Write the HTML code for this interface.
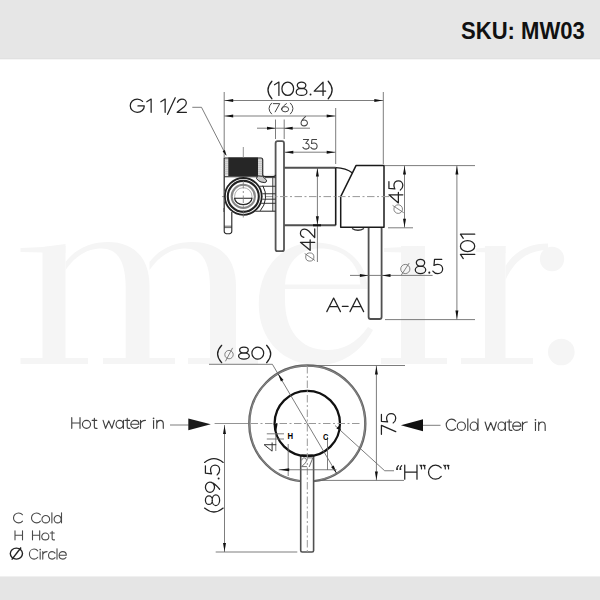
<!DOCTYPE html>
<html><head><meta charset="utf-8"><style>
html,body{margin:0;padding:0;background:#fff;}
svg{display:block;font-family:"Liberation Sans",sans-serif;}
</style></head><body>
<svg width="600" height="600" viewBox="0 0 600 600">
<rect x="0" y="0" width="600" height="600" fill="#fff"/>
<g fill="#f5f5f5">
<path d="M42.5,247 L65.5,244 L65.5,358 L42.5,358 Z"/>
<path d="M20.5,248 L65.5,246 L65.5,253 L20.5,252 Z"/>
<rect x="20.5" y="358" width="67.5" height="6"/>
<path d="M65.5,262 C76,248 92,242 108,242 C132,242 149.5,256 149.5,286 L149.5,358 L125.7,358 L125.7,288 C125.7,262 118,249 102,248.5 C88,248.5 76,255 65.5,270 Z"/>
<rect x="103" y="358" width="72" height="6"/>
<path d="M149.5,262 C160,248 176,242 192,242 C218,242 236,256 236,286 L236,358 L210,358 L210,288 C210,262 202,249 186,248.5 C172,248.5 160,255 149.5,270 Z"/>
<rect x="188" y="358" width="70" height="6"/>
<path d="M367.5,289 C367.5,262 345,242.5 315,242.5 C282,242.5 258.75,268 258.75,304 C258.75,340 283,365 318,365 C342,365 361,352 373,330 L368,327 C357,343 343,350 327,350 C300,350 285,330 285,300 L285,289 Z"/>
</g>
<path d="M285,284.5 C286,262 300,248.5 320,248.5 C343,248.5 358,262 360.5,284.5 Z" fill="#fff"/>
<g fill="#f5f5f5">
<rect x="401" y="246" width="24" height="114"/>
<path d="M384,248 L425,246 L425,253 L384,252 Z"/>
<rect x="381" y="358" width="66" height="6"/>
<rect x="485" y="246" width="20.5" height="114"/>
<path d="M476,248.5 L505.5,246 L505.5,253 L476,252 Z"/>
<rect x="461" y="358" width="72" height="6"/>
<path d="M505.5,266 C514,252 528,243.5 548,243.5 L548,250 C530,250 515,259 505.5,280 Z"/>
<circle cx="552" cy="259" r="12.2"/>
<circle cx="561.3" cy="352" r="13.3"/>
</g>
<rect x="0" y="0" width="600" height="58" fill="#e6e6e6"/>
<rect x="0" y="58" width="600" height="1" fill="#e1e1e1"/>
<rect x="0" y="59" width="600" height="1" fill="#f6f6f6"/>
<rect x="0" y="576" width="600" height="1" fill="#f0f0f0"/>
<rect x="0" y="577" width="600" height="23" fill="#e5e5e5"/>
<line x1="224.20" y1="92.00" x2="224.20" y2="157.00" stroke="#666" stroke-width="0.85" />
<line x1="383.30" y1="92.00" x2="383.30" y2="164.00" stroke="#666" stroke-width="0.85" />
<line x1="335.70" y1="108.00" x2="335.70" y2="164.00" stroke="#666" stroke-width="0.85" />
<line x1="275.50" y1="119.50" x2="275.50" y2="139.00" stroke="#666" stroke-width="0.85" />
<line x1="284.20" y1="119.50" x2="284.20" y2="139.00" stroke="#666" stroke-width="0.85" />
<line x1="224.20" y1="100.50" x2="383.30" y2="100.50" stroke="#666" stroke-width="0.85" />
<polygon points="224.70,100.50 233.20,99.00 233.20,102.00" fill="#111"/>
<polygon points="382.80,100.50 374.30,102.00 374.30,99.00" fill="#111"/>
<line x1="224.20" y1="116.00" x2="335.70" y2="116.00" stroke="#666" stroke-width="0.85" />
<polygon points="224.70,116.00 233.20,114.50 233.20,117.50" fill="#111"/>
<polygon points="335.20,116.00 326.70,117.50 326.70,114.50" fill="#111"/>
<line x1="257.00" y1="128.20" x2="310.00" y2="128.20" stroke="#666" stroke-width="0.85" />
<polygon points="275.50,128.20 267.00,129.70 267.00,126.70" fill="#111"/>
<polygon points="284.20,128.20 292.70,126.70 292.70,129.70" fill="#111"/>
<line x1="284.30" y1="152.20" x2="335.70" y2="152.20" stroke="#666" stroke-width="0.85" />
<polygon points="284.80,152.20 293.30,150.70 293.30,153.70" fill="#111"/>
<polygon points="335.20,152.20 326.70,153.70 326.70,150.70" fill="#111"/>
<line x1="192.30" y1="107.30" x2="201.50" y2="107.30" stroke="#666" stroke-width="0.85" />
<line x1="201.50" y1="107.30" x2="226.00" y2="155.00" stroke="#666" stroke-width="0.85" />
<polygon points="226.50,156.00 222.60,151.26 224.92,150.07" fill="#111"/>
<rect x="275.6" y="141.2" width="8.4" height="110" rx="2" fill="#fff" stroke="#555" stroke-width="1.8"/>
<path d="M284.2,167.7 H335.7 M335.7,225.3 H284.2" fill="none" stroke="#505050" stroke-width="1.9"/>
<path d="M335.7,167.6 V225.3" fill="none" stroke="#1a1a1a" stroke-width="1.6"/>
<rect x="368.6" y="226.5" width="13" height="92.5" rx="2" fill="#fff" stroke="#505050" stroke-width="1.8"/>
<path d="M335.7,167.6 Q346,168 352.5,173" fill="none" stroke="#1a1a1a" stroke-width="1.3"/>
<path d="M356,165.6 H384 V227.3 H340.7 V196.7 Z" fill="#fff" stroke="#1a1a1a" stroke-width="1.5" stroke-linejoin="round"/>
<path d="M352,228.5 Q358,232 364,228.5" fill="none" stroke="#333" stroke-width="1.3"/>
<line x1="222.00" y1="196.60" x2="392.00" y2="196.60" stroke="#999" stroke-width="1.0" stroke-dasharray="7.5 2.5 2 2.5"/>
<line x1="317.40" y1="167.60" x2="317.40" y2="262.00" stroke="#666" stroke-width="0.85" />
<polygon points="317.40,168.10 318.90,176.60 315.90,176.60" fill="#111"/>
<polygon points="317.40,224.80 315.90,216.30 318.90,216.30" fill="#111"/>
<rect x="313" y="224.3" width="8" height="2" fill="#111"/>
<g transform="translate(309.8,257) rotate(-90)"><ellipse cx="0" cy="0" rx="4.1" ry="4.1" fill="none" stroke="#666" stroke-width="0.8"/><line x1="-3.4849999999999994" y1="5.125" x2="3.4849999999999994" y2="-5.125" stroke="#666" stroke-width="0.8"/></g>
<line x1="385.00" y1="165.60" x2="475.00" y2="165.60" stroke="#666" stroke-width="0.85" />
<line x1="388.00" y1="227.80" x2="413.00" y2="227.80" stroke="#666" stroke-width="0.85" />
<line x1="404.50" y1="165.60" x2="404.50" y2="227.50" stroke="#666" stroke-width="0.85" />
<polygon points="404.50,166.10 406.00,174.60 403.00,174.60" fill="#111"/>
<polygon points="404.50,227.30 403.00,218.80 406.00,218.80" fill="#111"/>
<g transform="translate(398.2,209.1) rotate(-90)"><ellipse cx="0" cy="0" rx="4.3" ry="4.3" fill="none" stroke="#666" stroke-width="0.8"/><line x1="-3.655" y1="5.59" x2="3.655" y2="-5.59" stroke="#666" stroke-width="0.8"/></g>
<line x1="385.00" y1="319.60" x2="475.00" y2="319.60" stroke="#666" stroke-width="0.85" />
<line x1="456.90" y1="165.60" x2="456.90" y2="319.60" stroke="#666" stroke-width="0.85" />
<polygon points="456.90,166.10 458.40,174.60 455.40,174.60" fill="#111"/>
<polygon points="456.90,319.10 455.40,310.60 458.40,310.60" fill="#111"/>
<line x1="350.00" y1="275.40" x2="432.60" y2="275.40" stroke="#666" stroke-width="0.85" />
<polygon points="368.40,275.40 359.90,276.90 359.90,273.90" fill="#111"/>
<polygon points="382.00,275.40 390.50,273.90 390.50,276.90" fill="#111"/>
<g transform="translate(405.3,269) rotate(0)"><ellipse cx="0" cy="0" rx="4.6" ry="4.6" fill="none" stroke="#666" stroke-width="0.8"/><line x1="-3.9099999999999997" y1="5.9799999999999995" x2="3.9099999999999997" y2="-5.9799999999999995" stroke="#666" stroke-width="0.8"/></g>
<g stroke="#222" fill="none">
<path d="M224.2,176.7 V158 H261 Q262.7,158 262.7,160 V174.5 Q262.7,176.7 265,176.7 H273 Q275.5,176.7 275.5,174.5" fill="#e6e6e6" stroke-width="1.2"/>
<line x1="224.6" y1="159.8" x2="228.3" y2="159.8" stroke="#aaa" stroke-width="0.7"/>
<line x1="257.9" y1="159.8" x2="262.3" y2="159.8" stroke="#aaa" stroke-width="0.7"/>
<line x1="224.6" y1="161.8" x2="228.3" y2="161.8" stroke="#aaa" stroke-width="0.7"/>
<line x1="257.9" y1="161.8" x2="262.3" y2="161.8" stroke="#aaa" stroke-width="0.7"/>
<line x1="224.6" y1="163.8" x2="228.3" y2="163.8" stroke="#aaa" stroke-width="0.7"/>
<line x1="257.9" y1="163.8" x2="262.3" y2="163.8" stroke="#aaa" stroke-width="0.7"/>
<line x1="224.6" y1="165.8" x2="228.3" y2="165.8" stroke="#aaa" stroke-width="0.7"/>
<line x1="257.9" y1="165.8" x2="262.3" y2="165.8" stroke="#aaa" stroke-width="0.7"/>
<line x1="224.6" y1="167.8" x2="228.3" y2="167.8" stroke="#aaa" stroke-width="0.7"/>
<line x1="257.9" y1="167.8" x2="262.3" y2="167.8" stroke="#aaa" stroke-width="0.7"/>
<line x1="224.6" y1="169.8" x2="228.3" y2="169.8" stroke="#aaa" stroke-width="0.7"/>
<line x1="257.9" y1="169.8" x2="262.3" y2="169.8" stroke="#aaa" stroke-width="0.7"/>
<line x1="224.6" y1="171.8" x2="228.3" y2="171.8" stroke="#aaa" stroke-width="0.7"/>
<line x1="257.9" y1="171.8" x2="262.3" y2="171.8" stroke="#aaa" stroke-width="0.7"/>
<line x1="224.6" y1="173.8" x2="228.3" y2="173.8" stroke="#aaa" stroke-width="0.7"/>
<line x1="257.9" y1="173.8" x2="262.3" y2="173.8" stroke="#aaa" stroke-width="0.7"/>
<rect x="228.3" y="157.5" width="29.7" height="18.6" fill="#262626" stroke="none"/>
<path d="M224.2,176.7 H262.7" stroke-width="1.1"/>
<path d="M224.2,176.7 V212" stroke-width="1.2"/>
<line x1="265" y1="177.6" x2="275.5" y2="177.6" stroke-width="0.8"/>
<line x1="260" y1="186.25" x2="275.5" y2="186.25" stroke-width="0.9"/>
<line x1="260" y1="193.75" x2="275.5" y2="193.75" stroke-width="0.9"/>
<line x1="260" y1="199.2" x2="275.5" y2="199.2" stroke-width="0.9"/>
<line x1="260" y1="203.3" x2="275.5" y2="203.3" stroke-width="0.9"/>
<line x1="252" y1="211.2" x2="275.5" y2="211.2" stroke-width="1"/>
<line x1="272.8" y1="177.6" x2="272.8" y2="211.2" stroke-width="0.9"/>
<path d="M257.5,175.8 L262.5,176.2 L266.6,180.2 Q266.8,182.3 264.8,182.6 L261,182 Q258,181 256.5,178.5 Z" fill="#ccc" stroke-width="1"/>
<path d="M262.8,185.6 A22,22 0 0 1 260.2,210.8" stroke-width="1"/>
<circle cx="243.3" cy="196.4" r="19.3" fill="#fff" stroke="none"/>
<circle cx="243.3" cy="196.4" r="18.4" stroke-width="1.8"/>
<circle cx="243.3" cy="196.4" r="15.5" stroke-width="2.1"/>
<circle cx="243.3" cy="196.4" r="11.6" stroke="#888" stroke-width="2.1"/>
<circle cx="243.3" cy="196.4" r="8.7" stroke="#999" stroke-width="0.8"/>
<path d="M234.6,198.3 H252 A8.7,6.2 0 0 1 234.6,198.3 Z" stroke-width="1.1"/>
<path d="M224.2,208 V231.2 Q224.2,233.8 228,233.8 Q231.8,233.8 231.8,231.2 V212" fill="#fff" stroke-width="1.1"/>
<line x1="224.2" y1="226.2" x2="231.8" y2="226.2" stroke-width="0.7"/>
<line x1="224.2" y1="227.6" x2="231.8" y2="227.6" stroke-width="0.7"/>
</g>
<line x1="243.30" y1="147.00" x2="243.30" y2="158.00" stroke="#777" stroke-width="0.8" />
<line x1="243.30" y1="181.00" x2="243.30" y2="219.00" stroke="#777" stroke-width="0.8" stroke-dasharray="7.5 2.5 2 2.5"/>
<circle cx="307.3" cy="423.5" r="58" fill="none" stroke="#626262" stroke-width="2.4"/>
<circle cx="307.3" cy="423.5" r="58" fill="none" stroke="#aaa" stroke-width="0.5"/>
<rect x="300.7" y="455" width="12.9" height="97" rx="1.5" fill="#fff" stroke="#505050" stroke-width="1.6"/>
<circle cx="307.3" cy="423.5" r="32.7" fill="none" stroke="#111" stroke-width="2.2"/>
<line x1="214.60" y1="423.50" x2="248.00" y2="423.50" stroke="#888" stroke-width="0.9" />
<line x1="250.50" y1="423.50" x2="362.00" y2="423.50" stroke="#999" stroke-width="1.0" stroke-dasharray="7.5 2.5 2 2.5"/>
<line x1="307.30" y1="366.00" x2="307.30" y2="552.00" stroke="#999" stroke-width="1.0" stroke-dasharray="7.5 2.5 2 2.5"/>
<g transform="translate(229,354.6) rotate(0)"><ellipse cx="0" cy="0" rx="4.2" ry="4.2" fill="none" stroke="#666" stroke-width="0.8"/><line x1="-3.57" y1="6.720000000000001" x2="3.57" y2="-6.720000000000001" stroke="#666" stroke-width="0.8"/></g>
<line x1="209.00" y1="364.30" x2="272.40" y2="364.30" stroke="#666" stroke-width="0.85" />
<line x1="272.40" y1="364.30" x2="336.69" y2="473.50" stroke="#666" stroke-width="0.85" />
<polygon points="277.91,373.50 283.51,380.07 280.92,381.59" fill="#111"/>
<polygon points="336.69,473.50 331.09,466.93 333.68,465.41" fill="#111"/>
<line x1="170.00" y1="425.00" x2="188.75" y2="425.00" stroke="#666" stroke-width="0.85" />
<polygon points="188.3,418.6 210.8,424.3 188.3,430.2" fill="#1a1a1a"/>
<line x1="423.00" y1="425.30" x2="440.50" y2="425.30" stroke="#666" stroke-width="0.85" />
<polygon points="423,419.3 400.9,425.3 423,431.3" fill="#111"/>
<line x1="307.30" y1="365.50" x2="405.00" y2="365.50" stroke="#666" stroke-width="0.85" />
<line x1="314.00" y1="480.40" x2="404.00" y2="480.40" stroke="#666" stroke-width="0.85" />
<line x1="376.40" y1="365.50" x2="376.40" y2="480.40" stroke="#666" stroke-width="0.85" />
<polygon points="376.40,366.00 377.90,374.50 374.90,374.50" fill="#111"/>
<polygon points="376.40,479.90 374.90,471.40 377.90,471.40" fill="#111"/>
<line x1="335.00" y1="425.50" x2="384.70" y2="470.75" stroke="#666" stroke-width="0.85" />
<line x1="384.70" y1="470.75" x2="394.00" y2="470.75" stroke="#666" stroke-width="0.85" />
<polygon points="341.20,430.50 336.35,428.40 338.63,425.88" fill="#111"/>
<polygon points="276.20,431.50 273.47,423.69 277.66,423.36" fill="#111"/>
<line x1="215.70" y1="552.00" x2="297.30" y2="552.00" stroke="#666" stroke-width="0.85" />
<line x1="224.50" y1="425.00" x2="224.50" y2="552.00" stroke="#666" stroke-width="0.85" />
<polygon points="224.50,425.50 226.00,434.00 223.00,434.00" fill="#111"/>
<polygon points="224.50,551.50 223.00,543.00 226.00,543.00" fill="#111"/>
<line x1="278.75" y1="469.75" x2="336.50" y2="469.75" stroke="#666" stroke-width="0.85" />
<line x1="288.20" y1="444.00" x2="288.20" y2="476.00" stroke="#666" stroke-width="0.85" />
<line x1="327.50" y1="437.00" x2="327.50" y2="470.00" stroke="#666" stroke-width="0.85" />
<polygon points="279.20,469.75 289.20,468.35 289.20,471.15" fill="#111"/>
<line x1="266.80" y1="433.80" x2="284.00" y2="433.80" stroke="#666" stroke-width="0.85" />
<line x1="266.80" y1="439.00" x2="284.00" y2="439.00" stroke="#666" stroke-width="0.85" />
<line x1="275.80" y1="433.00" x2="275.80" y2="451.00" stroke="#666" stroke-width="0.85" />
<g transform="translate(16.4,553.6) rotate(0)"><ellipse cx="0" cy="0" rx="6.1" ry="5.5" fill="none" stroke="#222" stroke-width="1.4"/><line x1="-4.675" y1="6.050000000000001" x2="4.675" y2="-6.050000000000001" stroke="#222" stroke-width="1.4"/></g>
<text x="461.0" y="38.75" font-size="23" fill="#111" font-weight="bold" text-anchor="start" textLength="123.78" lengthAdjust="spacingAndGlyphs" >SKU: MW03</text>
<g transform="translate(265.762,82.069) scale(14.28646,13.36250)" fill="none" stroke="#222" stroke-width="1.25" stroke-linecap="round" stroke-linejoin="round" vector-effect="non-scaling-stroke">
<path transform="translate(0.0000,0)" d="M0.43,-0.06 Q-0.12,0.6 0.43,1.25" vector-effect="non-scaling-stroke"/>
<path transform="translate(0.6100,0)" d="M0,0.2 L0.31,0 V1" vector-effect="non-scaling-stroke"/>
<path transform="translate(1.1300,0)" d="M0.000,0.500 A0.410,0.500 0 1 0 0.820,0.500 A0.410,0.500 0 1 0 0.000,0.500 Z" vector-effect="non-scaling-stroke"/>
<path transform="translate(2.1300,0)" d="M0.075,0.245 A0.300,0.245 0 1 0 0.675,0.245 A0.300,0.245 0 1 0 0.075,0.245 Z M0.000,0.735 A0.375,0.265 0 1 0 0.750,0.735 A0.375,0.265 0 1 0 0.000,0.735 Z" vector-effect="non-scaling-stroke"/>
<path transform="translate(3.3900,0)" d="M0.62,1 V0 L0,0.68 H0.8" vector-effect="non-scaling-stroke"/>
<path transform="translate(4.3700,0)" d="M0,-0.06 Q0.55,0.6 0,1.25" vector-effect="non-scaling-stroke"/>
</g>
<circle cx="310.55" cy="94.50" r="0.94" fill="#222"/>
<g transform="translate(267.450,103.635) scale(9.54225,8.23000)" fill="none" stroke="#444" stroke-width="1.0" stroke-linecap="round" stroke-linejoin="round" vector-effect="non-scaling-stroke">
<path transform="translate(0.0000,0)" d="M0.43,-0.06 Q-0.12,0.6 0.43,1.25" vector-effect="non-scaling-stroke"/>
<path transform="translate(0.6100,0)" d="M0,0 H0.68 L0.2,1" vector-effect="non-scaling-stroke"/>
<path transform="translate(1.4700,0)" d="M0.52,0 C0.3,0.18 0.06,0.42 0.02,0.62 M0.010,0.680 A0.370,0.320 0 1 0 0.750,0.680 A0.370,0.320 0 1 0 0.010,0.680 Z" vector-effect="non-scaling-stroke"/>
<path transform="translate(2.4100,0)" d="M0,-0.06 Q0.55,0.6 0,1.25" vector-effect="non-scaling-stroke"/>
</g>
<g transform="translate(300.973,116.642) scale(8.62500,9.21650)" fill="none" stroke="#444" stroke-width="1.05" stroke-linecap="round" stroke-linejoin="round" vector-effect="non-scaling-stroke">
<path transform="translate(0.0000,0)" d="M0.52,0 C0.3,0.18 0.06,0.42 0.02,0.62 M0.010,0.680 A0.370,0.320 0 1 0 0.750,0.680 A0.370,0.320 0 1 0 0.010,0.680 Z" vector-effect="non-scaling-stroke"/>
</g>
<g transform="translate(302.873,139.442) scale(9.02215,9.66650)" fill="none" stroke="#444" stroke-width="1.05" stroke-linecap="round" stroke-linejoin="round" vector-effect="non-scaling-stroke">
<path transform="translate(0.0000,0)" d="M0.06,0 H0.64 L0.32,0.4 C0.54,0.39 0.7,0.53 0.7,0.71 C0.7,0.88 0.55,1 0.36,1 C0.21,1 0.08,0.93 0,0.82" vector-effect="non-scaling-stroke"/>
<path transform="translate(0.8800,0)" d="M0.64,0 H0.12 L0.08,0.43 C0.17,0.38 0.26,0.36 0.36,0.36 C0.56,0.36 0.7,0.5 0.7,0.68 C0.7,0.87 0.55,1 0.36,1 C0.21,1 0.08,0.93 0,0.82" vector-effect="non-scaling-stroke"/>
</g>
<g transform="translate(130.262,99.069) scale(14.00873,13.26250)" fill="none" stroke="#222" stroke-width="1.25" stroke-linecap="round" stroke-linejoin="round" vector-effect="non-scaling-stroke">
<path transform="translate(0.0000,0)" d="M0.88,0.18 C0.78,0.06 0.65,0 0.5,0 C0.22,0 0,0.22 0,0.5 C0,0.78 0.22,1 0.5,1 C0.78,1 1.0,0.8 1.0,0.52 H0.55" vector-effect="non-scaling-stroke"/>
<path transform="translate(1.1800,0)" d="M0,0.2 L0.31,0 V1" vector-effect="non-scaling-stroke"/>
<path transform="translate(2.1800,0)" d="M0,0.2 L0.31,0 V1" vector-effect="non-scaling-stroke"/>
<path transform="translate(2.6600,0)" d="M0.55,-0.1 L0,1.15" vector-effect="non-scaling-stroke"/>
<path transform="translate(3.3500,0)" d="M0.02,0.24 C0.08,0.08 0.2,0 0.34,0 C0.52,0 0.65,0.13 0.65,0.29 C0.65,0.4 0.6,0.48 0.5,0.58 L0.0,1 H0.66" vector-effect="non-scaling-stroke"/>
</g>
<g transform="translate(300.419,250.338) rotate(-90) scale(13.03354,14.31250)" fill="none" stroke="#222" stroke-width="1.25" stroke-linecap="round" stroke-linejoin="round" vector-effect="non-scaling-stroke">
<path transform="translate(0.0000,0)" d="M0.62,1 V0 L0,0.68 H0.8" vector-effect="non-scaling-stroke"/>
<path transform="translate(0.9800,0)" d="M0.02,0.24 C0.08,0.08 0.2,0 0.34,0 C0.52,0 0.65,0.13 0.65,0.29 C0.65,0.4 0.6,0.48 0.5,0.58 L0.0,1 H0.66" vector-effect="non-scaling-stroke"/>
</g>
<g transform="translate(388.919,202.938) rotate(-90) scale(13.16964,13.91250)" fill="none" stroke="#222" stroke-width="1.25" stroke-linecap="round" stroke-linejoin="round" vector-effect="non-scaling-stroke">
<path transform="translate(0.0000,0)" d="M0.62,1 V0 L0,0.68 H0.8" vector-effect="non-scaling-stroke"/>
<path transform="translate(0.9800,0)" d="M0.64,0 H0.12 L0.08,0.43 C0.17,0.38 0.26,0.36 0.36,0.36 C0.56,0.36 0.7,0.5 0.7,0.68 C0.7,0.87 0.55,1 0.36,1 C0.21,1 0.08,0.93 0,0.82" vector-effect="non-scaling-stroke"/>
</g>
<g transform="translate(460.419,258.538) rotate(-90) scale(13.31967,14.31250)" fill="none" stroke="#222" stroke-width="1.25" stroke-linecap="round" stroke-linejoin="round" vector-effect="non-scaling-stroke">
<path transform="translate(0.0000,0)" d="M0,0.2 L0.31,0 V1" vector-effect="non-scaling-stroke"/>
<path transform="translate(0.5200,0)" d="M0.000,0.500 A0.410,0.500 0 1 0 0.820,0.500 A0.410,0.500 0 1 0 0.000,0.500 Z" vector-effect="non-scaling-stroke"/>
<path transform="translate(1.5200,0)" d="M0,0.2 L0.31,0 V1" vector-effect="non-scaling-stroke"/>
</g>
<g transform="translate(415.262,259.269) scale(13.96684,14.36250)" fill="none" stroke="#222" stroke-width="1.25" stroke-linecap="round" stroke-linejoin="round" vector-effect="non-scaling-stroke">
<path transform="translate(0.0000,0)" d="M0.075,0.245 A0.300,0.245 0 1 0 0.675,0.245 A0.300,0.245 0 1 0 0.075,0.245 Z M0.000,0.735 A0.375,0.265 0 1 0 0.750,0.735 A0.375,0.265 0 1 0 0.000,0.735 Z" vector-effect="non-scaling-stroke"/>
<path transform="translate(1.2600,0)" d="M0.64,0 H0.12 L0.08,0.43 C0.17,0.38 0.26,0.36 0.36,0.36 C0.56,0.36 0.7,0.5 0.7,0.68 C0.7,0.87 0.55,1 0.36,1 C0.21,1 0.08,0.93 0,0.82" vector-effect="non-scaling-stroke"/>
</g>
<circle cx="429.30" cy="272.63" r="1.01" fill="#222"/>
<g transform="translate(326.812,298.069) scale(13.63889,13.56250)" fill="none" stroke="#222" stroke-width="1.25" stroke-linecap="round" stroke-linejoin="round" vector-effect="non-scaling-stroke">
<path transform="translate(0.0000,0)" d="M0,1 L0.5,0 L1,1 M0.19,0.64 H0.81" vector-effect="non-scaling-stroke"/>
<path transform="translate(1.1400,0)" d="M0,0.62 H0.42" vector-effect="non-scaling-stroke"/>
<path transform="translate(1.7000,0)" d="M0,1 L0.5,0 L1,1 M0.19,0.64 H0.81" vector-effect="non-scaling-stroke"/>
</g>
<g transform="translate(238.562,347.169) scale(14.35714,11.91250)" fill="none" stroke="#222" stroke-width="1.25" stroke-linecap="round" stroke-linejoin="round" vector-effect="non-scaling-stroke">
<path transform="translate(0.0000,0)" d="M0.075,0.245 A0.300,0.245 0 1 0 0.675,0.245 A0.300,0.245 0 1 0 0.075,0.245 Z M0.000,0.735 A0.375,0.265 0 1 0 0.750,0.735 A0.375,0.265 0 1 0 0.000,0.735 Z" vector-effect="non-scaling-stroke"/>
<path transform="translate(0.9300,0)" d="M0.000,0.500 A0.410,0.500 0 1 0 0.820,0.500 A0.410,0.500 0 1 0 0.000,0.500 Z" vector-effect="non-scaling-stroke"/>
</g>
<g transform="translate(71.767,417.655) scale(10.86231,10.68950)" fill="none" stroke="#404040" stroke-width="1.15" stroke-linecap="round" stroke-linejoin="round" vector-effect="non-scaling-stroke">
<path transform="translate(0.0000,0)" d="M0,0 V1 M0.76,0 V1 M0,0.5 H0.76" vector-effect="non-scaling-stroke"/>
<path transform="translate(0.9800,0)" d="M0.000,0.627 A0.375,0.373 0 1 0 0.750,0.627 A0.375,0.373 0 1 0 0.000,0.627 Z" vector-effect="non-scaling-stroke"/>
<path transform="translate(1.8800,0)" d="M0.2,0.06 V0.88 Q0.2,1 0.34,1 H0.45 M0,0.255 H0.42" vector-effect="non-scaling-stroke"/>
<path transform="translate(2.8850,0)" d="M0,0.255 L0.23,1 L0.52,0.3 L0.81,1 L1.04,0.255" vector-effect="non-scaling-stroke"/>
<path transform="translate(4.0750,0)" d="M0.000,0.627 A0.330,0.373 0 1 0 0.660,0.627 A0.330,0.373 0 1 0 0.000,0.627 Z M0.68,0.255 V1" vector-effect="non-scaling-stroke"/>
<path transform="translate(4.9050,0)" d="M0.2,0.06 V0.88 Q0.2,1 0.34,1 H0.45 M0,0.255 H0.42" vector-effect="non-scaling-stroke"/>
<path transform="translate(5.4300,0)" d="M0.02,0.62 H0.75 C0.75,0.4 0.59,0.255 0.375,0.255 C0.17,0.255 0,0.42 0,0.627 C0,0.84 0.17,1 0.385,1 C0.52,1 0.64,0.94 0.71,0.84" vector-effect="non-scaling-stroke"/>
<path transform="translate(6.3300,0)" d="M0,0.255 V1 M0,0.56 C0.05,0.37 0.22,0.255 0.45,0.255" vector-effect="non-scaling-stroke"/>
<path transform="translate(7.4550,0)" d="M0.075,0.27 V1" vector-effect="non-scaling-stroke"/>
<path transform="translate(7.8250,0)" d="M0,0.255 V1 M0,0.54 C0.05,0.35 0.17,0.255 0.32,0.255 C0.5,0.255 0.6,0.37 0.6,0.58 V1" vector-effect="non-scaling-stroke"/>
</g>
<circle cx="153.56" cy="418.30" r="0.86" fill="#404040"/>
<g transform="translate(446.217,419.155) scale(10.84548,11.28950)" fill="none" stroke="#404040" stroke-width="1.15" stroke-linecap="round" stroke-linejoin="round" vector-effect="non-scaling-stroke">
<path transform="translate(0.0000,0)" d="M0.87,0.18 C0.78,0.06 0.64,0 0.5,0 C0.22,0 0,0.22 0,0.5 C0,0.78 0.22,1 0.5,1 C0.64,1 0.78,0.94 0.87,0.82" vector-effect="non-scaling-stroke"/>
<path transform="translate(1.0200,0)" d="M0.000,0.627 A0.375,0.373 0 1 0 0.750,0.627 A0.375,0.373 0 1 0 0.000,0.627 Z" vector-effect="non-scaling-stroke"/>
<path transform="translate(1.9650,0)" d="M0.025,-0.02 V1" vector-effect="non-scaling-stroke"/>
<path transform="translate(2.2100,0)" d="M0.000,0.627 A0.340,0.373 0 1 0 0.680,0.627 A0.340,0.373 0 1 0 0.000,0.627 Z M0.72,-0.02 V1" vector-effect="non-scaling-stroke"/>
<path transform="translate(3.5850,0)" d="M0,0.255 L0.23,1 L0.52,0.3 L0.81,1 L1.04,0.255" vector-effect="non-scaling-stroke"/>
<path transform="translate(4.7750,0)" d="M0.000,0.627 A0.330,0.373 0 1 0 0.660,0.627 A0.330,0.373 0 1 0 0.000,0.627 Z M0.68,0.255 V1" vector-effect="non-scaling-stroke"/>
<path transform="translate(5.6050,0)" d="M0.2,0.06 V0.88 Q0.2,1 0.34,1 H0.45 M0,0.255 H0.42" vector-effect="non-scaling-stroke"/>
<path transform="translate(6.1300,0)" d="M0.02,0.62 H0.75 C0.75,0.4 0.59,0.255 0.375,0.255 C0.17,0.255 0,0.42 0,0.627 C0,0.84 0.17,1 0.385,1 C0.52,1 0.64,0.94 0.71,0.84" vector-effect="non-scaling-stroke"/>
<path transform="translate(7.0300,0)" d="M0,0.255 V1 M0,0.56 C0.05,0.37 0.22,0.255 0.45,0.255" vector-effect="non-scaling-stroke"/>
<path transform="translate(8.1550,0)" d="M0.075,0.27 V1" vector-effect="non-scaling-stroke"/>
<path transform="translate(8.5250,0)" d="M0,0.255 V1 M0,0.54 C0.05,0.35 0.17,0.255 0.32,0.255 C0.5,0.255 0.6,0.37 0.6,0.58 V1" vector-effect="non-scaling-stroke"/>
</g>
<circle cx="535.48" cy="419.83" r="0.86" fill="#404040"/>
<g transform="translate(381.419,434.337) rotate(-90) scale(13.25321,14.31250)" fill="none" stroke="#222" stroke-width="1.25" stroke-linecap="round" stroke-linejoin="round" vector-effect="non-scaling-stroke">
<path transform="translate(0.0000,0)" d="M0,0 H0.68 L0.2,1" vector-effect="non-scaling-stroke"/>
<path transform="translate(0.8600,0)" d="M0.64,0 H0.12 L0.08,0.43 C0.17,0.38 0.26,0.36 0.36,0.36 C0.56,0.36 0.7,0.5 0.7,0.68 C0.7,0.87 0.55,1 0.36,1 C0.21,1 0.08,0.93 0,0.82" vector-effect="non-scaling-stroke"/>
</g>
<g transform="translate(396.062,465.169) scale(14.23333,13.96250)" fill="none" stroke="#222" stroke-width="1.25" stroke-linecap="round" stroke-linejoin="round" vector-effect="non-scaling-stroke">
<path transform="translate(0.0000,0)" d="M0.16,0.04 C0.08,0.1 0.04,0.2 0.06,0.3 M0.39,0.04 C0.31,0.1 0.27,0.2 0.29,0.3" vector-effect="non-scaling-stroke"/>
<path transform="translate(0.6100,0)" d="M0,0 V1 M0.86,0 V1 M0,0.5 H0.86" vector-effect="non-scaling-stroke"/>
<path transform="translate(1.6700,0)" d="M0.25,0.0 C0.33,0.06 0.37,0.16 0.35,0.26 M0.02,0.0 C0.1,0.06 0.14,0.16 0.12,0.26" vector-effect="non-scaling-stroke"/>
<path transform="translate(2.2800,0)" d="M0.89,0.2 C0.79,0.07 0.65,0 0.5,0 C0.22,0 0,0.22 0,0.5 C0,0.78 0.22,1 0.5,1 C0.65,1 0.79,0.93 0.89,0.8" vector-effect="non-scaling-stroke"/>
<path transform="translate(3.3400,0)" d="M0.25,0.0 C0.33,0.06 0.37,0.16 0.35,0.26 M0.02,0.0 C0.1,0.06 0.14,0.16 0.12,0.26" vector-effect="non-scaling-stroke"/>
</g>
<circle cx="397.20" cy="469.08" r="0.94" fill="#222"/>
<circle cx="400.47" cy="469.08" r="0.94" fill="#222"/>
<circle cx="421.54" cy="465.59" r="0.94" fill="#222"/>
<circle cx="424.81" cy="465.59" r="0.94" fill="#222"/>
<circle cx="445.31" cy="465.59" r="0.94" fill="#222"/>
<circle cx="448.58" cy="465.59" r="0.94" fill="#222"/>
<g transform="translate(205.419,514.188) rotate(-90) scale(14.17279,14.21250)" fill="none" stroke="#222" stroke-width="1.25" stroke-linecap="round" stroke-linejoin="round" vector-effect="non-scaling-stroke">
<path transform="translate(0.0000,0)" d="M0.43,-0.06 Q-0.12,0.6 0.43,1.25" vector-effect="non-scaling-stroke"/>
<path transform="translate(0.6100,0)" d="M0.075,0.245 A0.300,0.245 0 1 0 0.675,0.245 A0.300,0.245 0 1 0 0.075,0.245 Z M0.000,0.735 A0.375,0.265 0 1 0 0.750,0.735 A0.375,0.265 0 1 0 0.000,0.735 Z" vector-effect="non-scaling-stroke"/>
<path transform="translate(1.5400,0)" d="M0.000,0.320 A0.360,0.320 0 1 0 0.720,0.320 A0.360,0.320 0 1 0 0.000,0.320 Z M0.71,0.4 C0.66,0.6 0.45,0.82 0.22,1" vector-effect="non-scaling-stroke"/>
<path transform="translate(2.7700,0)" d="M0.64,0 H0.12 L0.08,0.43 C0.17,0.38 0.26,0.36 0.36,0.36 C0.56,0.36 0.7,0.5 0.7,0.68 C0.7,0.87 0.55,1 0.36,1 C0.21,1 0.08,0.93 0,0.82" vector-effect="non-scaling-stroke"/>
<path transform="translate(3.6500,0)" d="M0,-0.06 Q0.55,0.6 0,1.25" vector-effect="non-scaling-stroke"/>
</g>
<circle cx="218.64" cy="478.54" r="0.99" fill="#222"/>
<g transform="translate(301.678,457.878) scale(7.33224,8.74350)" fill="none" stroke="#666" stroke-width="0.95" stroke-linecap="round" stroke-linejoin="round" vector-effect="non-scaling-stroke">
<path transform="translate(0.0000,0)" d="M0.02,0.24 C0.08,0.08 0.2,0 0.34,0 C0.52,0 0.65,0.13 0.65,0.29 C0.65,0.4 0.6,0.48 0.5,0.58 L0.0,1 H0.66" vector-effect="non-scaling-stroke"/>
<path transform="translate(0.8400,0)" d="M0,0 H0.68 L0.2,1" vector-effect="non-scaling-stroke"/>
</g>
<g transform="translate(264.135,451.150) rotate(-90) scale(10.37500,11.73000)" fill="none" stroke="#333" stroke-width="1.0" stroke-linecap="round" stroke-linejoin="round" vector-effect="non-scaling-stroke">
<path transform="translate(0.0000,0)" d="M0.62,1 V0 L0,0.68 H0.8" vector-effect="non-scaling-stroke"/>
</g>
<g transform="translate(13.495,512.948) scale(10.35632,9.90300)" fill="none" stroke="#4a4a4a" stroke-width="1.1" stroke-linecap="round" stroke-linejoin="round" vector-effect="non-scaling-stroke">
<path transform="translate(0.0000,0)" d="M0.87,0.18 C0.78,0.06 0.64,0 0.5,0 C0.22,0 0,0.22 0,0.5 C0,0.78 0.22,1 0.5,1 C0.64,1 0.78,0.94 0.87,0.82" vector-effect="non-scaling-stroke"/>
</g>
<g transform="translate(31.495,512.948) scale(10.24232,9.90300)" fill="none" stroke="#4a4a4a" stroke-width="1.1" stroke-linecap="round" stroke-linejoin="round" vector-effect="non-scaling-stroke">
<path transform="translate(0.0000,0)" d="M0.87,0.18 C0.78,0.06 0.64,0 0.5,0 C0.22,0 0,0.22 0,0.5 C0,0.78 0.22,1 0.5,1 C0.64,1 0.78,0.94 0.87,0.82" vector-effect="non-scaling-stroke"/>
<path transform="translate(1.0200,0)" d="M0.000,0.627 A0.375,0.373 0 1 0 0.750,0.627 A0.375,0.373 0 1 0 0.000,0.627 Z" vector-effect="non-scaling-stroke"/>
<path transform="translate(1.9650,0)" d="M0.025,-0.02 V1" vector-effect="non-scaling-stroke"/>
<path transform="translate(2.2100,0)" d="M0.000,0.627 A0.340,0.373 0 1 0 0.680,0.627 A0.340,0.373 0 1 0 0.000,0.627 Z M0.72,-0.02 V1" vector-effect="non-scaling-stroke"/>
</g>
<g transform="translate(14.995,530.749) scale(9.88158,9.10300)" fill="none" stroke="#4a4a4a" stroke-width="1.1" stroke-linecap="round" stroke-linejoin="round" vector-effect="non-scaling-stroke">
<path transform="translate(0.0000,0)" d="M0,0 V1 M0.76,0 V1 M0,0.5 H0.76" vector-effect="non-scaling-stroke"/>
</g>
<g transform="translate(32.495,530.749) scale(9.44635,9.10300)" fill="none" stroke="#4a4a4a" stroke-width="1.1" stroke-linecap="round" stroke-linejoin="round" vector-effect="non-scaling-stroke">
<path transform="translate(0.0000,0)" d="M0,0 V1 M0.76,0 V1 M0,0.5 H0.76" vector-effect="non-scaling-stroke"/>
<path transform="translate(0.9800,0)" d="M0.000,0.627 A0.375,0.373 0 1 0 0.750,0.627 A0.375,0.373 0 1 0 0.000,0.627 Z" vector-effect="non-scaling-stroke"/>
<path transform="translate(1.8800,0)" d="M0.2,0.06 V0.88 Q0.2,1 0.34,1 H0.45 M0,0.255 H0.42" vector-effect="non-scaling-stroke"/>
</g>
<g transform="translate(29.395,549.048) scale(9.58701,10.05300)" fill="none" stroke="#4a4a4a" stroke-width="1.1" stroke-linecap="round" stroke-linejoin="round" vector-effect="non-scaling-stroke">
<path transform="translate(0.0000,0)" d="M0.87,0.18 C0.78,0.06 0.64,0 0.5,0 C0.22,0 0,0.22 0,0.5 C0,0.78 0.22,1 0.5,1 C0.64,1 0.78,0.94 0.87,0.82" vector-effect="non-scaling-stroke"/>
<path transform="translate(1.0500,0)" d="M0.075,0.27 V1" vector-effect="non-scaling-stroke"/>
<path transform="translate(1.3950,0)" d="M0,0.255 V1 M0,0.56 C0.05,0.37 0.22,0.255 0.45,0.255" vector-effect="non-scaling-stroke"/>
<path transform="translate(1.9950,0)" d="M0.68,0.41 C0.6,0.31 0.5,0.255 0.375,0.255 C0.17,0.255 0,0.42 0,0.627 C0,0.84 0.17,1 0.375,1 C0.5,1 0.6,0.95 0.68,0.85" vector-effect="non-scaling-stroke"/>
<path transform="translate(2.8550,0)" d="M0.025,-0.02 V1" vector-effect="non-scaling-stroke"/>
<path transform="translate(3.1000,0)" d="M0.02,0.62 H0.75 C0.75,0.4 0.59,0.255 0.375,0.255 C0.17,0.255 0,0.42 0,0.627 C0,0.84 0.17,1 0.385,1 C0.52,1 0.64,0.94 0.71,0.84" vector-effect="non-scaling-stroke"/>
</g>
<circle cx="40.18" cy="549.65" r="0.83" fill="#4a4a4a"/>
<path d="M221.7,345.3 Q213.5,354 221.7,362.7" fill="none" stroke="#222" stroke-width="1.25" stroke-linecap="round"/>
<path d="M266.6,345.3 Q274.8,354 266.6,362.7" fill="none" stroke="#222" stroke-width="1.25" stroke-linecap="round"/>
<text x="287.4" y="439.4" font-size="8.2" fill="#000" font-weight="bold" text-anchor="start" textLength="5.6" lengthAdjust="spacingAndGlyphs" >H</text>
<text x="323.1" y="439.5" font-size="8.2" fill="#000" font-weight="bold" text-anchor="start" textLength="5.4" lengthAdjust="spacingAndGlyphs" >C</text>
</svg></body></html>
